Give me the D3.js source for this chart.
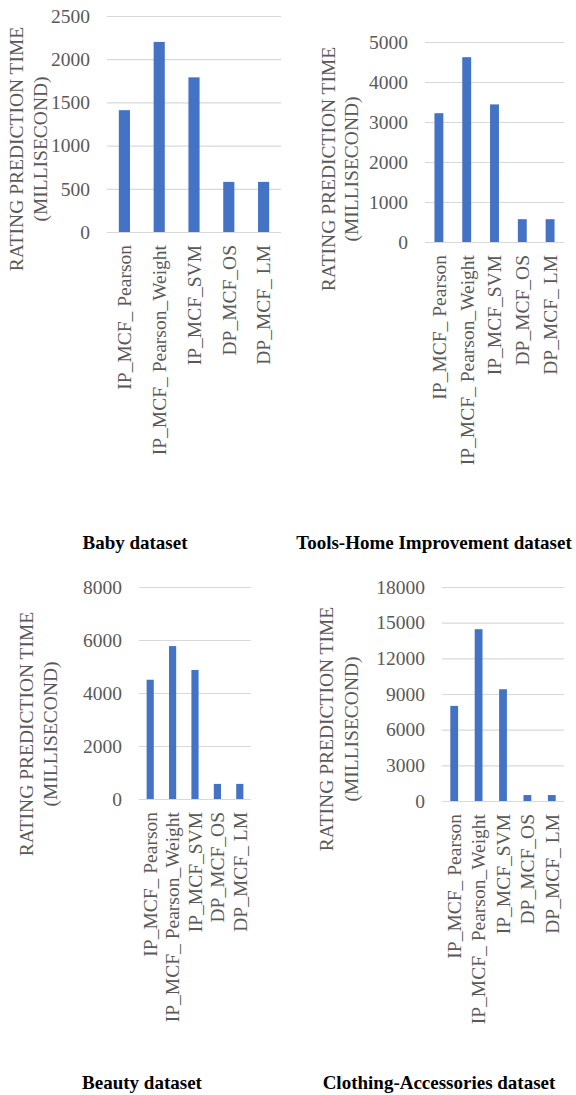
<!DOCTYPE html>
<html>
<head>
<meta charset="utf-8">
<script src="https://cdn.jsdelivr.net/npm/d3@7"></script>
<style>
  html, body { margin: 0; padding: 0; background: #fff; }
  svg { display: block; }
  svg text { font-family: "Liberation Serif", "Times New Roman", Times, "DejaVu Serif", serif; }
</style>
</head>
<body>
<svg id="chart" width="576" height="1095"></svg>
<script>
// Methods compared in every panel
const methods = ["IP_MCF_ Pearson", "IP_MCF_ Pearson_Weight", "IP_MCF_SVM", "DP_MCF_OS", "DP_MCF_ LM"];

// Rating prediction time (milliseconds) per dataset
const babyTimes = [1410, 2200, 1790, 580, 580];
const toolsTimes = [3220, 4620, 3440, 570, 570];
const beautyTimes = [4500, 5770, 4870, 570, 570];
const clothingTimes = [8000, 14450, 9400, 500, 500];

// Y-axis tick values per dataset
const babyTicks = [0, 500, 1000, 1500, 2000, 2500];
const toolsTicks = [0, 1000, 2000, 3000, 4000, 5000];
const beautyTicks = [0, 2000, 4000, 6000, 8000];
const clothingTicks = [0, 3000, 6000, 9000, 12000, 15000, 18000];

const datasetTitles = ["Baby dataset", "Tools-Home Improvement dataset", "Beauty dataset", "Clothing-Accessories dataset"];
const axisTitleLines = ["RATING PREDICTION TIME", "(MILLISECOND)"];

// Panel geometry (plot box, axis title placement, caption placement)
const panels = [
  { title: datasetTitles[0], values: babyTimes, ticks: babyTicks,
    x0: 107, x1: 281, y0: 16, y1: 232, tx: [23, 47], ty: 149, cx: 135, cy: 549 },
  { title: datasetTitles[1], values: toolsTimes, ticks: toolsTicks,
    x0: 425, x1: 564, y0: 42, y1: 242, tx: [335, 358], ty: 169, cx: 434, cy: 549 },
  { title: datasetTitles[2], values: beautyTimes, ticks: beautyTicks,
    x0: 139, x1: 251, y0: 587, y1: 799, tx: [33, 57], ty: 734, cx: 142, cy: 1089 },
  { title: datasetTitles[3], values: clothingTimes, ticks: clothingTicks,
    x0: 442, x1: 564, y0: 587, y1: 801, tx: [333, 358], ty: 729, cx: 439, cy: 1089 }
];

const TEXT_GRAY = "#595959";
const GRID = "#d9d9d9";
const BAR = "#4472c4";
const FS = 19.5;

const svg = d3.select("#chart");

panels.forEach(p => {
  const g = svg.append("g");

  const x = d3.scaleBand()
    .domain(methods)
    .range([p.x0, p.x1])
    .paddingInner(0.68)
    .paddingOuter(0.34);

  const y = d3.scaleLinear()
    .domain([0, d3.max(p.ticks)])
    .range([p.y1, p.y0]);

  // Gridlines and tick labels
  const yAxis = d3.axisLeft(y)
    .tickValues(p.ticks)
    .tickSize(-(p.x1 - p.x0))
    .tickPadding(17)
    .tickFormat(d3.format("d"));

  const ag = g.append("g")
    .attr("transform", `translate(${p.x0},0)`)
    .call(yAxis)
    .attr("font-family", null)
    .attr("font-size", null);
  ag.select(".domain").remove();
  ag.selectAll(".tick line")
    .attr("stroke", GRID)
    .attr("stroke-width", 1.2);
  ag.selectAll(".tick text")
    .style("font-size", FS + "px")
    .attr("fill", TEXT_GRAY);

  // Bars
  g.selectAll("rect.bar")
    .data(p.values)
    .join("rect")
    .attr("class", "bar")
    .attr("x", (d, i) => x(methods[i]))
    .attr("width", x.bandwidth())
    .attr("y", d => y(d))
    .attr("height", d => y(0) - y(d))
    .attr("fill", BAR);

  // Rotated category labels under the axis
  g.selectAll("text.cat")
    .data(methods)
    .join("text")
    .attr("class", "cat")
    .attr("transform", d => `translate(${x(d) + x.bandwidth() / 2},${p.y1 + 13}) rotate(-90)`)
    .attr("dy", "0.35em")
    .attr("text-anchor", "end")
    .style("font-size", FS + "px")
    .attr("fill", TEXT_GRAY)
    .text(d => d);

  // Two-line vertical axis title
  axisTitleLines.forEach((line, k) => {
    g.append("text")
      .attr("transform", `translate(${p.tx[k]},${p.ty}) rotate(-90)`)
      .attr("text-anchor", "middle")
      .style("font-size", FS + "px")
      .attr("fill", TEXT_GRAY)
      .text(line);
  });

  // Dataset caption
  g.append("text")
    .attr("x", p.cx)
    .attr("y", p.cy)
    .attr("text-anchor", "middle")
    .style("font-size", "19px")
    .style("font-weight", "bold")
    .attr("fill", "#000")
    .text(p.title);
});
</script>
</body>
</html>
